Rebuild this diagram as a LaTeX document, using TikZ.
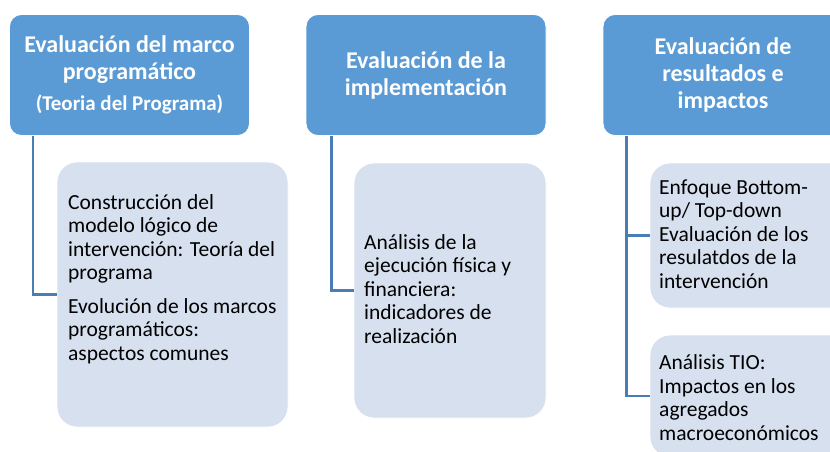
\documentclass[tikz,border=0pt]{standalone}
\usepackage{fontspec}
\setmainfont{Carlito}
\definecolor{headfill}{HTML}{5B9BD5}
\definecolor{childfill}{HTML}{D6E0EE}
\definecolor{connc}{HTML}{4A7DB5}
\begin{document}
\begin{tikzpicture}[x=1pt,y=-1pt,
  head/.style={draw=white, line width=0.8pt, fill=headfill, rounded corners=12pt, minimum width=240pt, minimum height=121pt, inner sep=0pt},
  htext/.style={anchor=base, align=center, inner sep=0pt, text=white, font=\fontsize{24}{27}\selectfont\bfseries},
  child/.style={draw=white, line width=0.8pt, fill=childfill, rounded corners=20pt, inner sep=0pt},
  ctext/.style={anchor=base west, align=left, inner sep=0pt, font=\fontsize{21.5}{23.5}\selectfont},
  conn/.style={draw=connc, line width=2.4pt}]
\clip (0,0) rectangle (830,451);
\fill[white] (0,0) rectangle (830,451);
% headers
\node[head] (h1) at (129.5,75) {};
\node[head] (h2) at (426,75) {};
\node[head] (h3) at (723,75) {};
\node[htext] (h1t) at (129.5,110) {Evaluación del marco\\programático\\[4pt]{\fontsize{21}{22}\selectfont(Teoria del Programa)}};
\node[htext] (h2t) at (426,95) {Evaluación de la\\implementación};
\node[htext] (h3t) at (723,108) {Evaluación de\\resultados e\\impactos};
% children
\node[child, minimum width=231pt, minimum height=265pt] (c1) at (172.5,294.5) {};
\node[child, minimum width=192pt, minimum height=255pt] (c2) at (450,290.5) {};
\node[child, minimum width=200pt, minimum height=145pt] (c3a) at (750,235.5) {};
\node[child, minimum width=200pt, minimum height=122pt] (c3b) at (750,396) {};
% texts
\node[ctext] (t1) at (68,360) {Construcción del\\modelo lógico de\\intervención: Teoría del\\programa\\[10pt]Evolución de los marcos\\programáticos:\\aspectos comunes};
\node[ctext] (t2) at (364,343) {Análisis de la\\ejecución física y\\financiera:\\indicadores de\\realización};
\node[ctext] (t3a) at (659,288) {Enfoque Bottom-\\up/ Top-down\\Evaluación de los\\resulatdos de la\\intervención};
\node[ctext] (t3b) at (659,440) {Análisis TIO:\\Impactos en los\\agregados\\macroeconómicos};
% connectors
\coordinate (a1) at ([xshift=24]h1.south west);
\coordinate (a2) at ([xshift=26]h2.south west);
\coordinate (a3) at ([xshift=24]h3.south west);
\draw[conn] (a1) |- (c1.west);
\draw[conn] (a2) |- (c2.west);
\draw[conn] (a3) |- (c3b.west);
\draw[conn] (a3 |- c3a.west) -- (c3a.west);
\end{tikzpicture}
\end{document}
